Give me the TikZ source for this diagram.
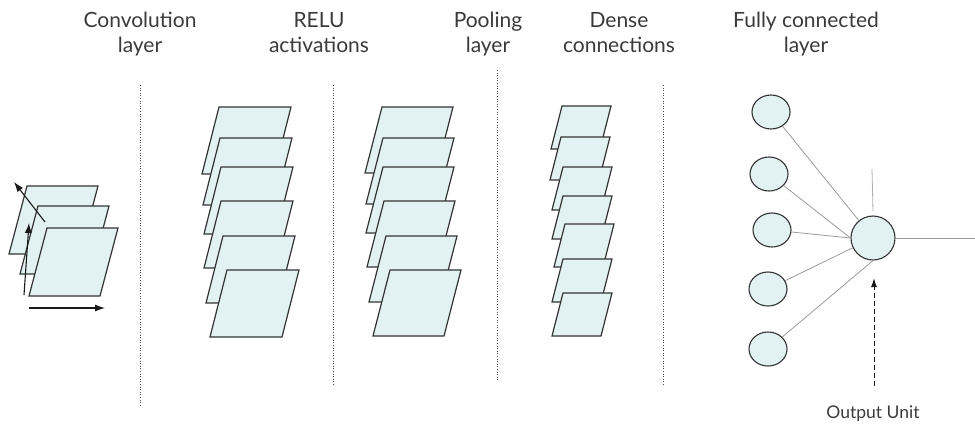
\documentclass[tikz,border=0pt]{standalone}
\usepackage{fontspec}
\setmainfont{Lato}
\usetikzlibrary{arrows.meta,shapes.geometric}
\definecolor{sheet}{HTML}{E2F1F1}
\definecolor{edge}{HTML}{333333}
\definecolor{txt}{HTML}{3A3A3A}
\definecolor{wire}{HTML}{9A9A9A}
\begin{document}
\begin{tikzpicture}[x=1pt,y=-1pt,
  sheetbox/.style={fill=sheet,draw=edge,line width=1.2pt,line join=miter},
  sep/.style={draw=black!70,line width=0.7pt,dash pattern=on 1pt off 1.6pt},
  lbl/.style={align=center,text=txt,font=\fontsize{21}{24.5}\selectfont,inner sep=0pt,anchor=base},
  neuron/.style={ellipse,draw=edge,fill=sheet,line width=1.1pt,minimum width=38pt,minimum height=34pt,inner sep=0pt},
  wirel/.style={draw=wire,line width=0.8pt},
  blk/.style={draw=black!90,line width=1.1pt,-{Latex[length=10pt,width=7pt]}}]
\useasboundingbox (0,0) rectangle (975,429);
\tikzset{pgram/.pic={\path[sheetbox] (0,0) -- (\pw,0) -- (\pw-\ps,\ph) -- (-\ps,\ph) -- cycle;}}
% conv stack
\def\pw{71}\def\ph{68}\def\ps{18}
\foreach \x/\y in {27/186,38/206,47/228}{\pic at (\x,\y) {pgram};}
% RELU stack
\def\pw{72}\def\ph{67}\def\ps{17}
\foreach \x/\y in {219/107,220/138,221/167,221/201,223/236,227/270}{\pic at (\x,\y) {pgram};}
% Pooling stack
\def\pw{71}\def\ph{66}\def\ps{17}
\foreach \x/\y in {382/107,383/138,383/167,384/201,386/236,390/270}{\pic at (\x,\y) {pgram};}
% Dense stack
\def\pw{49}\def\ph{43}\def\ps{11}
\foreach \x/\y in {562/106,561/137,563/167,563/196,565/224,563/259,563/293}{\pic at (\x,\y) {pgram};}
% conv arrows
\coordinate (d0) at (45,222); \coordinate (d1) at (14,182);
\coordinate (v0) at (24,295); \coordinate (v1) at (29,223);
\coordinate (h0) at (29,308); \coordinate (h1) at (105,308);
\draw[blk] (d0) -- (d1);
\draw[blk] (v0) -- (v1);
\draw[blk] (h0) -- (h1);
% separators
\coordinate (s1a) at (140,85); \coordinate (s1b) at (140,405);
\coordinate (s2a) at (333,85); \coordinate (s2b) at (333,385);
\coordinate (s3a) at (497,70); \coordinate (s3b) at (497,380);
\coordinate (s4a) at (663,85); \coordinate (s4b) at (663,385);
\draw[sep] (s1a) -- (s1b);
\draw[sep] (s2a) -- (s2b);
\draw[sep] (s3a) -- (s3b);
\draw[sep] (s4a) -- (s4b);
% labels
\node[lbl] (t1) at (140,52) {Convolution\\layer};
\node[lbl] (t2) at (319,52) {RELU\\activations};
\node[lbl] (t3) at (488,52) {Pooling\\layer};
\node[lbl] (t4) at (619,52) {Dense\\connections};
\node[lbl] (t5) at (806,52) {Fully connected\\layer};
\node[lbl,font=\fontsize{17.5}{19}\selectfont] (t6) at (873,418) {Output Unit};
% neurons
\node[neuron] (c1) at (771,112) {};
\node[neuron] (c2) at (769,174) {};
\node[neuron] (c3) at (772,230) {};
\node[neuron] (c4) at (768,289) {};
\node[neuron] (c5) at (768,349) {};
\node[neuron,minimum width=44pt,minimum height=44pt] (big) at (873,238) {};
\draw[wirel] (c1) -- (big);
\draw[wirel] (c2) -- (big.west);
\draw[wirel] (c3) -- (big.west);
\draw[wirel] (c4) -- (big);
\draw[wirel] (c5) -- (big.south);
\coordinate (top) at (872,169);
\coordinate (outr) at (975,238);
\draw[wirel,draw=wire!80] (top) -- ([yshift=4pt]big.north);
\draw[wirel] (big.east) -- (outr);
\coordinate (ua) at (874,386); \coordinate (ub) at (874,278);
\draw[draw=black!90,line width=1pt,dash pattern=on 5pt off 3pt,-{Latex[length=9pt,width=6pt]}] (ua) -- (ub);
\end{tikzpicture}
\end{document}
